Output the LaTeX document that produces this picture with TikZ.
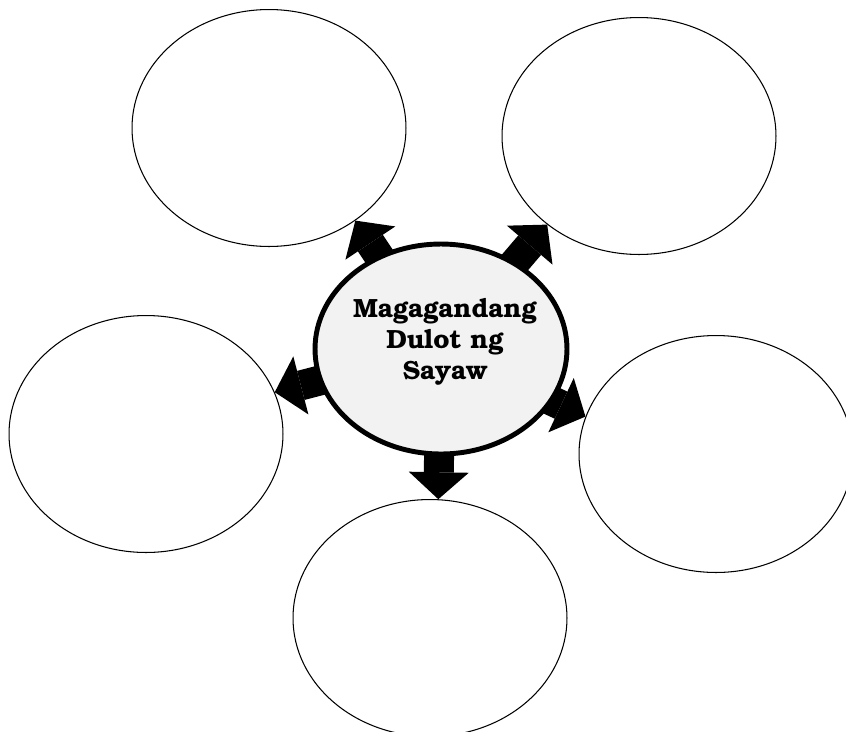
\documentclass[tikz,border=0pt]{standalone}
\usepackage{fontspec}
\setmainfont{TeX Gyre Bonum}
\usetikzlibrary{shapes.geometric, arrows.meta, backgrounds}
\definecolor{hubgray}{HTML}{F2F2F2}
\tikzset{
  % Empty answer bubble
  bubble/.style={draw, shape=ellipse, line width=0.6pt, minimum width=5.48cm,
    minimum height=4.74cm, inner sep=0pt},
  % Central topic
  hub/.style={draw, fill=hubgray, shape=ellipse, line width=2.8pt,
    minimum width=5.04cm, minimum height=4.2cm, inner sep=0pt},
  hubtext/.style={align=center, font=\bfseries\fontsize{15}{17.6}\selectfont},
  % Fat block arrows
  bigarrow/.style={line width=0.6cm,
    -{Triangle[width=1.2cm, length=0.54cm, line width=0pt]}},
}

\begin{document}
\begin{tikzpicture}[x=0.02cm, y=-0.02cm]
  \useasboundingbox (0,0) rectangle (846,731);

  \node[bubble] (tl) at (269,128) {};
  \node[bubble] (tr) at (639,136) {};
  \node[bubble] (l) at (146,434) {};
  \node[bubble] (r) at (716,454) {};
  \node[bubble] (b) at (430,618) {};

  \node[hub] (dulot) at (441,349) {};
  \node[hubtext] (title) at (445,342) {Magagandang\\Dulot ng\\Sayaw};

  \begin{scope}[on background layer]
    \draw[bigarrow] (dulot.center) -- (tl.-47);
    \draw[bigarrow] (dulot.center) -- (tr.-136);
    \draw[bigarrow] (dulot.center) -- (l.18);
    \draw[bigarrow] (dulot.center) -- (r.164);
    \draw[bigarrow] (dulot.center) -- (b.86);
  \end{scope}
\end{tikzpicture}
\end{document}
